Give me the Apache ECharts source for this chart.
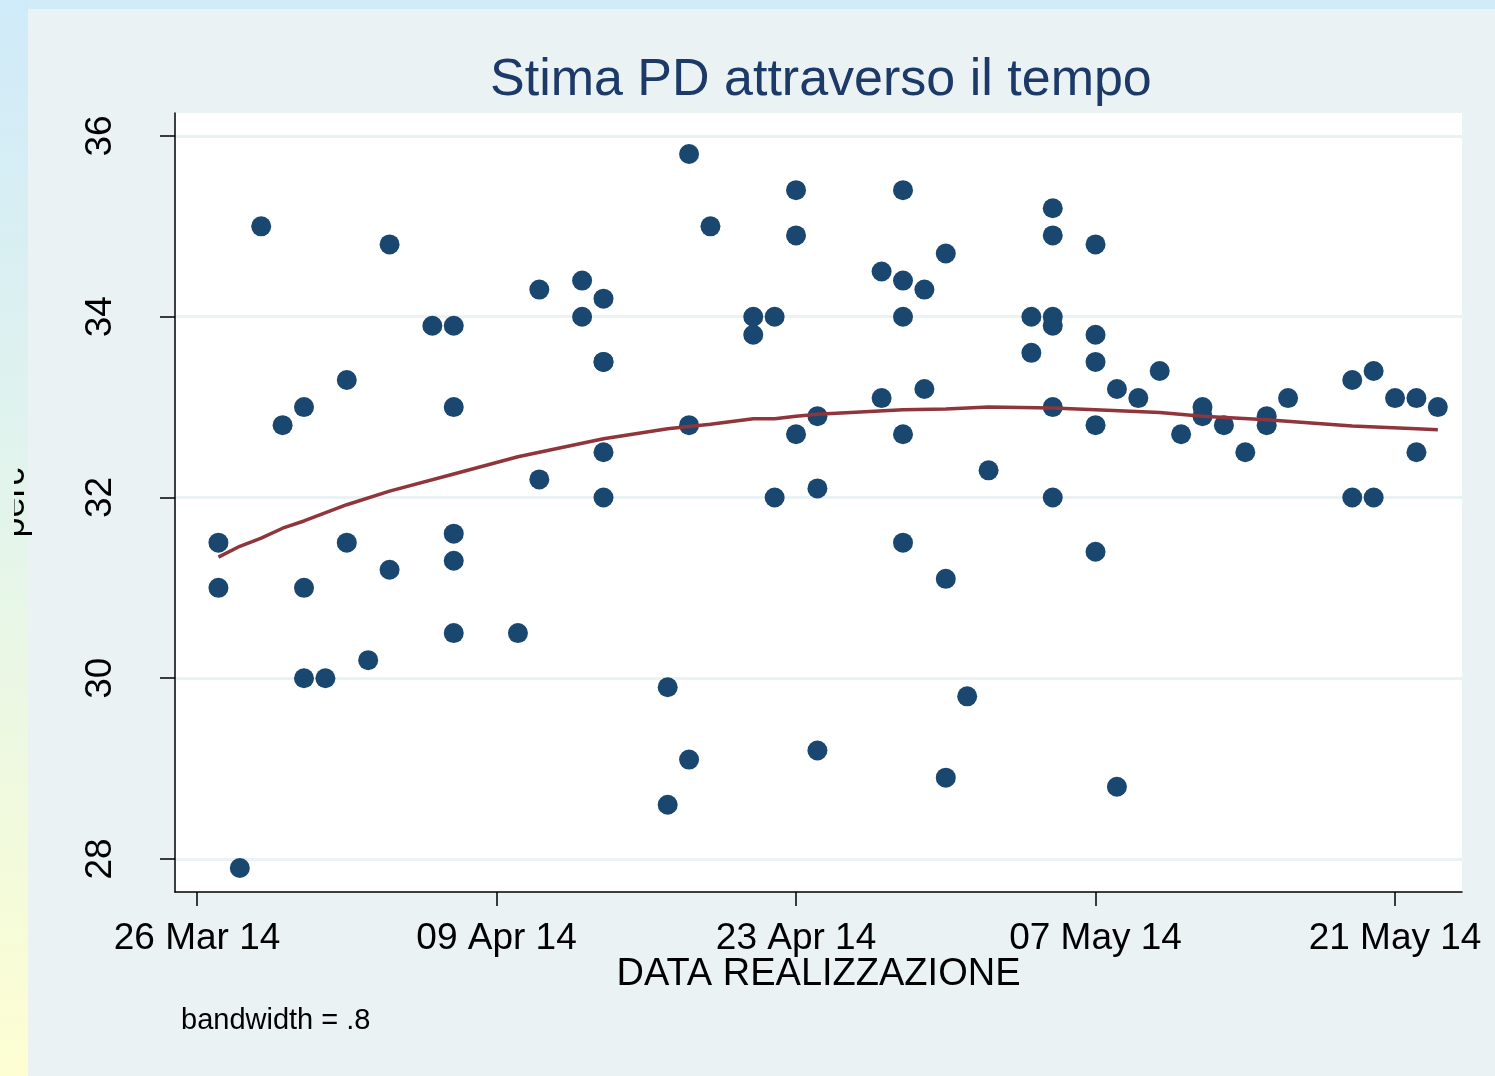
<!DOCTYPE html>
<html lang="it">
<head>
<meta charset="UTF-8">
<title>Stima PD attraverso il tempo</title>
<script src="https://cdn.jsdelivr.net/npm/echarts@6/dist/echarts.min.js"></script>
<style>
    html, body { margin: 0; padding: 0; }
    #container { width: 1495px; height: 1076px; }
</style>
</head>
<body>
<div id="container"></div>
<script>
    // giorni contati dal 26 Mar 14
    var tickDays = [0, 14, 28, 42, 56];
    var tickLabels = ['26 Mar 14', '09 Apr 14', '23 Apr 14', '07 May 14', '21 May 14'];
    var yTicks = [28, 30, 32, 34, 36];

    // sondaggi: giorno di realizzazione e stima PD
    var pollDays = [
        1, 1, 2, 3, 4, 5, 5, 5, 6, 7, 7, 8, 9, 9,
        11, 12, 12, 12, 12, 12, 15, 16, 16, 18, 18,
        19, 19, 19, 19, 19, 22, 22, 23, 23, 23, 24,
        26, 26, 27, 27, 28, 28, 28, 29, 29, 29,
        32, 32, 33, 33, 33, 33, 33, 34, 34, 35, 35, 35, 36, 37,
        39, 39, 40, 40, 40, 40, 40, 40,
        42, 42, 42, 42, 42, 43, 43, 44, 45, 46, 47, 47, 48, 49, 50, 50, 51,
        54, 54, 55, 55, 56, 57, 57, 58
    ];
    var pollValues = [
        31.5, 31.0, 27.9, 35.0, 32.8, 33.0, 31.0, 30.0, 30.0, 33.3, 31.5, 30.2, 34.8, 31.2,
        33.9, 33.9, 33.0, 31.6, 31.3, 30.5, 30.5, 34.3, 32.2, 34.4, 34.0,
        34.2, 33.5, 33.5, 32.5, 32.0, 29.9, 28.6, 35.8, 32.8, 29.1, 35.0,
        34.0, 33.8, 34.0, 32.0, 35.4, 34.9, 32.7, 32.9, 32.1, 29.2,
        34.5, 33.1, 35.4, 34.4, 34.0, 32.7, 31.5, 34.3, 33.2, 34.7, 31.1, 28.9, 29.8, 32.3,
        34.0, 33.6, 35.2, 34.9, 34.0, 33.9, 33.0, 32.0,
        34.8, 33.8, 33.5, 32.8, 31.4, 33.2, 28.8, 33.1, 33.4, 32.7, 33.0, 32.9, 32.8, 32.5, 32.9, 32.8, 33.1,
        33.3, 32.0, 33.4, 32.0, 33.1, 33.1, 32.5, 33.0
    ];

    // curva lowess (bandwidth = .8)
    var lowessDays = [1, 2, 3, 4, 5, 7, 9, 12, 15, 16, 19, 22, 24, 26, 27, 28, 29, 33, 35, 37, 40, 42, 45, 47, 50, 54, 57, 58];
    var lowessValues = [31.34, 31.46, 31.55, 31.66, 31.74, 31.92, 32.07, 32.26, 32.45, 32.50, 32.65, 32.76, 32.81, 32.87,
        32.87, 32.90, 32.92, 32.97, 32.98, 33.00, 32.99, 32.97, 32.94, 32.90, 32.86, 32.79, 32.76, 32.75];

    var font = 'Liberation Sans, Arial, sans-serif';

    var pollData = pollDays.map(function (d, i) { return [d, pollValues[i]]; });
    var lowessData = lowessDays.map(function (d, i) { return [d, lowessValues[i]]; });

    function stripFill() {
        return new echarts.graphic.LinearGradient(0, 0, 0, 1, [
            { offset: 0, color: '#cfeaf9' },
            { offset: 0.5, color: '#e4f5ea' },
            { offset: 1, color: '#fdfed2' }
        ]);
    }

    var myChart = echarts.init(document.getElementById('container'));

    myChart.setOption({
        backgroundColor: '#eaf2f3',
        animation: false,
        title: {
            text: 'Stima PD attraverso il tempo',
            left: 485,
            top: 50,
            textStyle: { fontSize: 52, fontWeight: 'normal', color: '#1c3968', fontFamily: font }
        },
        graphic: [
            {
                type: 'rect', z: -1,
                shape: { x: 0, y: 0, width: 1495, height: 9 },
                style: { fill: '#d1ecf9' }
            },
            {
                type: 'rect', z: -1,
                shape: { x: 0, y: 0, width: 28, height: 1076 },
                style: { fill: stripFill() }
            },
            {
                // copre la parte sinistra del titolo dell'asse y, tagliata nell'originale
                type: 'rect', z: 100,
                shape: { x: 0, y: 0, width: 14, height: 1076 },
                style: { fill: stripFill() }
            },
            {
                type: 'text',
                left: 181, top: 1006,
                style: { text: 'bandwidth = .8', fontSize: 29, fill: '#000', fontFamily: font }
            }
        ],
        grid: {
            left: 175, right: 33, top: 113, bottom: 184,
            outerBoundsMode: 'none',
            containLabel: false,
            show: true, backgroundColor: '#ffffff', borderWidth: 0
        },
        xAxis: {
            type: 'value',
            min: -1.03,
            max: 59.13,
            name: 'DATA REALIZZAZIONE',
            nameLocation: 'middle',
            nameGap: 64,
            nameMoveOverlap: false,
            nameTextStyle: { fontSize: 38, color: '#000', fontFamily: font },
            axisLine: { show: true, onZero: false, lineStyle: { color: '#000', width: 1.5 } },
            axisTick: { show: true, length: 14, customValues: tickDays, lineStyle: { color: '#000', width: 1.5 } },
            axisLabel: {
                customValues: tickDays,
                margin: 28,
                fontSize: 37,
                color: '#000',
                fontFamily: font,
                formatter: function (v) { return tickLabels[tickDays.indexOf(v)]; }
            },
            splitLine: { show: false }
        },
        yAxis: {
            type: 'value',
            min: 27.635,
            max: 36.254,
            name: 'perc',
            nameLocation: 'middle',
            nameRotate: 90,
            nameGap: 143,
            nameMoveOverlap: false,
            nameTextStyle: { fontSize: 36, color: '#000', fontFamily: font },
            axisLine: { show: true, onZero: false, lineStyle: { color: '#000', width: 1.5 } },
            axisTick: { show: true, length: 15, customValues: yTicks, lineStyle: { color: '#000', width: 1.5 } },
            axisLabel: {
                customValues: yTicks,
                rotate: 90,
                margin: 56,
                fontSize: 37,
                color: '#000',
                fontFamily: font
            },
            splitLine: { show: true, lineStyle: { color: '#eaf2f3', width: 3 } }
        },
        series: [
            {
                type: 'scatter',
                data: pollData,
                symbolSize: 20,
                itemStyle: { color: '#1a476f', opacity: 1 }
            },
            {
                type: 'line',
                data: lowessData,
                showSymbol: false,
                symbol: 'none',
                lineStyle: { color: '#90353b', width: 3.5 }
            }
        ]
    });
</script>
</body>
</html>
